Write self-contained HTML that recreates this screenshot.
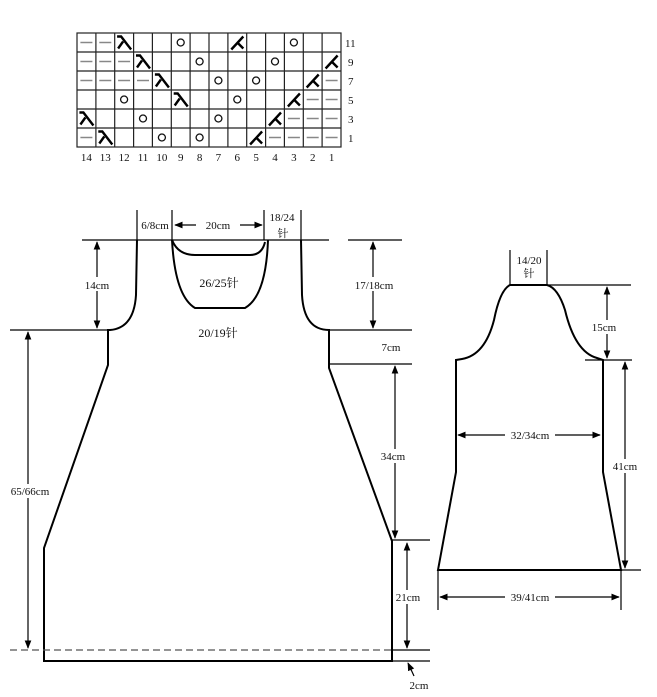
<!DOCTYPE html>
<html><head><meta charset="utf-8"><style>
html,body{margin:0;padding:0;background:#fff;}
svg{display:block;}
text{font-family:"Liberation Serif","Noto Serif CJK SC",serif;fill:#111;}
</style></head><body>
<svg width="657" height="697" viewBox="0 0 657 697" xmlns="http://www.w3.org/2000/svg">
<defs>
<marker id="a" viewBox="0 0 10 10" refX="9" refY="5" markerWidth="7" markerHeight="7" orient="auto-start-reverse"><path d="M0,1 L10,5 L0,9 z" fill="#000"/></marker>
<g id="d"><line x1="-6" y1="0" x2="6" y2="0" stroke="#888" stroke-width="1.5"/></g>
<g id="o"><circle cx="0" cy="0" r="3.5" fill="none" stroke="#111" stroke-width="1.3"/></g>
<g id="l"><path d="M-7,-6 L-3,-6 L7,7 M-1,-1 L-6,6" fill="none" stroke="#000" stroke-width="2.4"/></g>
<g id="k"><path d="M6,-6 L-6,7 M0,0 L6,6" fill="none" stroke="#000" stroke-width="2.4"/></g>
</defs>
<!-- chart grid -->
<g stroke="#222" stroke-width="1.2" fill="none">
<rect x="77" y="33" width="264" height="114"/>
<line x1="95.9" y1="33" x2="95.9" y2="147"/><line x1="114.7" y1="33" x2="114.7" y2="147"/><line x1="133.6" y1="33" x2="133.6" y2="147"/><line x1="152.4" y1="33" x2="152.4" y2="147"/><line x1="171.3" y1="33" x2="171.3" y2="147"/><line x1="190.1" y1="33" x2="190.1" y2="147"/><line x1="209" y1="33" x2="209" y2="147"/><line x1="227.9" y1="33" x2="227.9" y2="147"/><line x1="246.7" y1="33" x2="246.7" y2="147"/><line x1="265.6" y1="33" x2="265.6" y2="147"/><line x1="284.4" y1="33" x2="284.4" y2="147"/><line x1="303.3" y1="33" x2="303.3" y2="147"/><line x1="322.1" y1="33" x2="322.1" y2="147"/>
<line x1="77" y1="52" x2="341" y2="52"/><line x1="77" y1="71" x2="341" y2="71"/><line x1="77" y1="90" x2="341" y2="90"/><line x1="77" y1="109" x2="341" y2="109"/><line x1="77" y1="128" x2="341" y2="128"/>
</g>
<!-- row 11 -->
<use href="#d" x="86.4" y="42.5"/><use href="#d" x="105.3" y="42.5"/><use href="#l" x="124.1" y="42.5"/><use href="#o" x="180.7" y="42.5"/><use href="#k" x="237.3" y="42.5"/><use href="#o" x="293.9" y="42.5"/>
<!-- row 9 -->
<use href="#d" x="86.4" y="61.5"/><use href="#d" x="105.3" y="61.5"/><use href="#d" x="124.1" y="61.5"/><use href="#l" x="143" y="61.5"/><use href="#o" x="199.6" y="61.5"/><use href="#o" x="275" y="61.5"/><use href="#k" x="331.6" y="61.5"/>
<!-- row 7 -->
<use href="#d" x="86.4" y="80.5"/><use href="#d" x="105.3" y="80.5"/><use href="#d" x="124.1" y="80.5"/><use href="#d" x="143" y="80.5"/><use href="#l" x="161.9" y="80.5"/><use href="#o" x="218.4" y="80.5"/><use href="#o" x="256.1" y="80.5"/><use href="#k" x="312.7" y="80.5"/><use href="#d" x="331.6" y="80.5"/>
<!-- row 5 -->
<use href="#o" x="124.1" y="99.5"/><use href="#l" x="180.7" y="99.5"/><use href="#o" x="237.3" y="99.5"/><use href="#k" x="293.9" y="99.5"/><use href="#d" x="312.7" y="99.5"/><use href="#d" x="331.6" y="99.5"/>
<!-- row 3 -->
<use href="#l" x="86.4" y="118.5"/><use href="#o" x="143" y="118.5"/><use href="#o" x="218.4" y="118.5"/><use href="#k" x="275" y="118.5"/><use href="#d" x="293.9" y="118.5"/><use href="#d" x="312.7" y="118.5"/><use href="#d" x="331.6" y="118.5"/>
<!-- row 1 -->
<use href="#d" x="86.4" y="137.5"/><use href="#l" x="105.3" y="137.5"/><use href="#o" x="161.9" y="137.5"/><use href="#o" x="199.6" y="137.5"/><use href="#k" x="256.1" y="137.5"/><use href="#d" x="275" y="137.5"/><use href="#d" x="293.9" y="137.5"/><use href="#d" x="312.7" y="137.5"/><use href="#d" x="331.6" y="137.5"/>
<g font-size="11">
<text x="345" y="47">11</text><text x="348" y="66">9</text><text x="348" y="85">7</text><text x="348" y="104">5</text><text x="348" y="123">3</text><text x="348" y="142">1</text>
</g>
<g font-size="11" text-anchor="middle">
<text x="86.4" y="161">14</text><text x="105.3" y="161">13</text><text x="124.1" y="161">12</text><text x="143" y="161">11</text><text x="161.9" y="161">10</text><text x="180.7" y="161">9</text><text x="199.6" y="161">8</text><text x="218.4" y="161">7</text><text x="237.3" y="161">6</text><text x="256.1" y="161">5</text><text x="275" y="161">4</text><text x="293.9" y="161">3</text><text x="312.7" y="161">2</text><text x="331.6" y="161">1</text>
</g>

<!-- main body -->
<g fill="none" stroke="#000" stroke-width="2">
<path d="M137,240 L136,295 Q134,328 110,330 L108,330 L108,365 L44,548 L44,661 L392,661 L392,541 L329,368 L329,330 Q304,330 302,295 L301,240"/>
<path d="M172,240 Q175,296 195,308 L245,308 Q266,296 268,240"/>
<path d="M172,240 Q178,255 195,255 L250,255 Q262,255 265,242"/>
</g>
<g fill="none" stroke="#000" stroke-width="1.2">
<line x1="137" y1="210" x2="137" y2="240"/><line x1="172" y1="210" x2="172" y2="240"/>
<line x1="264" y1="210" x2="264" y2="240"/><line x1="301" y1="210" x2="301" y2="240"/>
<line x1="82" y1="240" x2="329" y2="240"/><line x1="348" y1="240" x2="402" y2="240"/>
<line x1="10" y1="330" x2="110" y2="330"/><line x1="329" y1="330" x2="412" y2="330"/>
<line x1="329" y1="364" x2="412" y2="364"/>
<line x1="392" y1="540" x2="430" y2="540"/>
<line x1="392" y1="650" x2="430" y2="650"/><line x1="392" y1="661" x2="430" y2="661"/>
<line x1="10" y1="650" x2="392" y2="650" stroke-dasharray="7,4" stroke="#555"/>
<line x1="97" y1="242" x2="97" y2="328" marker-start="url(#a)" marker-end="url(#a)"/>
<line x1="373" y1="242" x2="373" y2="328" marker-start="url(#a)" marker-end="url(#a)"/>
<line x1="28" y1="332" x2="28" y2="648" marker-start="url(#a)" marker-end="url(#a)"/>
<line x1="395" y1="366" x2="395" y2="538" marker-start="url(#a)" marker-end="url(#a)"/>
<line x1="407" y1="543" x2="407" y2="648" marker-start="url(#a)" marker-end="url(#a)"/>
<line x1="414" y1="676" x2="408" y2="663" marker-end="url(#a)"/>
<line x1="175" y1="225" x2="262" y2="225" marker-start="url(#a)" marker-end="url(#a)"/>
</g>
<g font-size="11" text-anchor="middle">
<rect x="196" y="217" width="44" height="14" fill="#fff"/>
<text x="218" y="229">20cm</text>
<text x="155" y="229">6/8cm</text>
<text x="282" y="221">18/24</text><text x="283" y="237">针</text>
<rect x="83" y="277" width="28" height="14" fill="#fff"/><text x="97" y="289">14cm</text>
<rect x="352" y="277" width="44" height="14" fill="#fff"/><text x="374" y="289">17/18cm</text>
<text x="219" y="287" font-size="12">26/25针</text>
<text x="218" y="337" font-size="12">20/19针</text>
<text x="391" y="351">7cm</text>
<rect x="4" y="484" width="50" height="14" fill="#fff"/><text x="30" y="495">65/66cm</text>
<rect x="381" y="449" width="28" height="14" fill="#fff"/><text x="393" y="460">34cm</text>
<rect x="395" y="590" width="26" height="14" fill="#fff"/><text x="408" y="601">21cm</text>
<text x="419" y="689">2cm</text>
</g>

<!-- sleeve -->
<g fill="none" stroke="#000" stroke-width="2">
<path d="M510,285 L547,285 Q558,288 565,310 Q575,352 597,358 L603,360 L603,472 L621,570 L438,570 L456,472 L456,360 L462,359 Q485,355 494,320 Q500,290 510,285"/>
</g>
<g fill="none" stroke="#000" stroke-width="1.2">
<line x1="510" y1="250" x2="510" y2="285"/><line x1="547" y1="250" x2="547" y2="285"/>
<line x1="547" y1="285" x2="631" y2="285"/><line x1="585" y1="360" x2="632" y2="360"/>
<line x1="621" y1="570" x2="641" y2="570"/>
<line x1="438" y1="570" x2="438" y2="610"/><line x1="621" y1="570" x2="621" y2="610"/>
<line x1="607" y1="287" x2="607" y2="358" marker-start="url(#a)" marker-end="url(#a)"/>
<line x1="625" y1="362" x2="625" y2="568" marker-start="url(#a)" marker-end="url(#a)"/>
<line x1="458" y1="435" x2="600" y2="435" marker-start="url(#a)" marker-end="url(#a)"/>
<line x1="440" y1="597" x2="619" y2="597" marker-start="url(#a)" marker-end="url(#a)"/>
</g>
<g font-size="11" text-anchor="middle">
<text x="529" y="264">14/20</text><text x="529" y="277">针</text>
<rect x="590" y="320" width="30" height="14" fill="#fff"/><text x="604" y="331">15cm</text>
<rect x="505" y="428" width="50" height="14" fill="#fff"/><text x="530" y="439">32/34cm</text>
<rect x="611" y="459" width="28" height="14" fill="#fff"/><text x="625" y="470">41cm</text>
<rect x="505" y="590" width="50" height="14" fill="#fff"/><text x="530" y="601">39/41cm</text>
</g>
</svg>
</body></html>
